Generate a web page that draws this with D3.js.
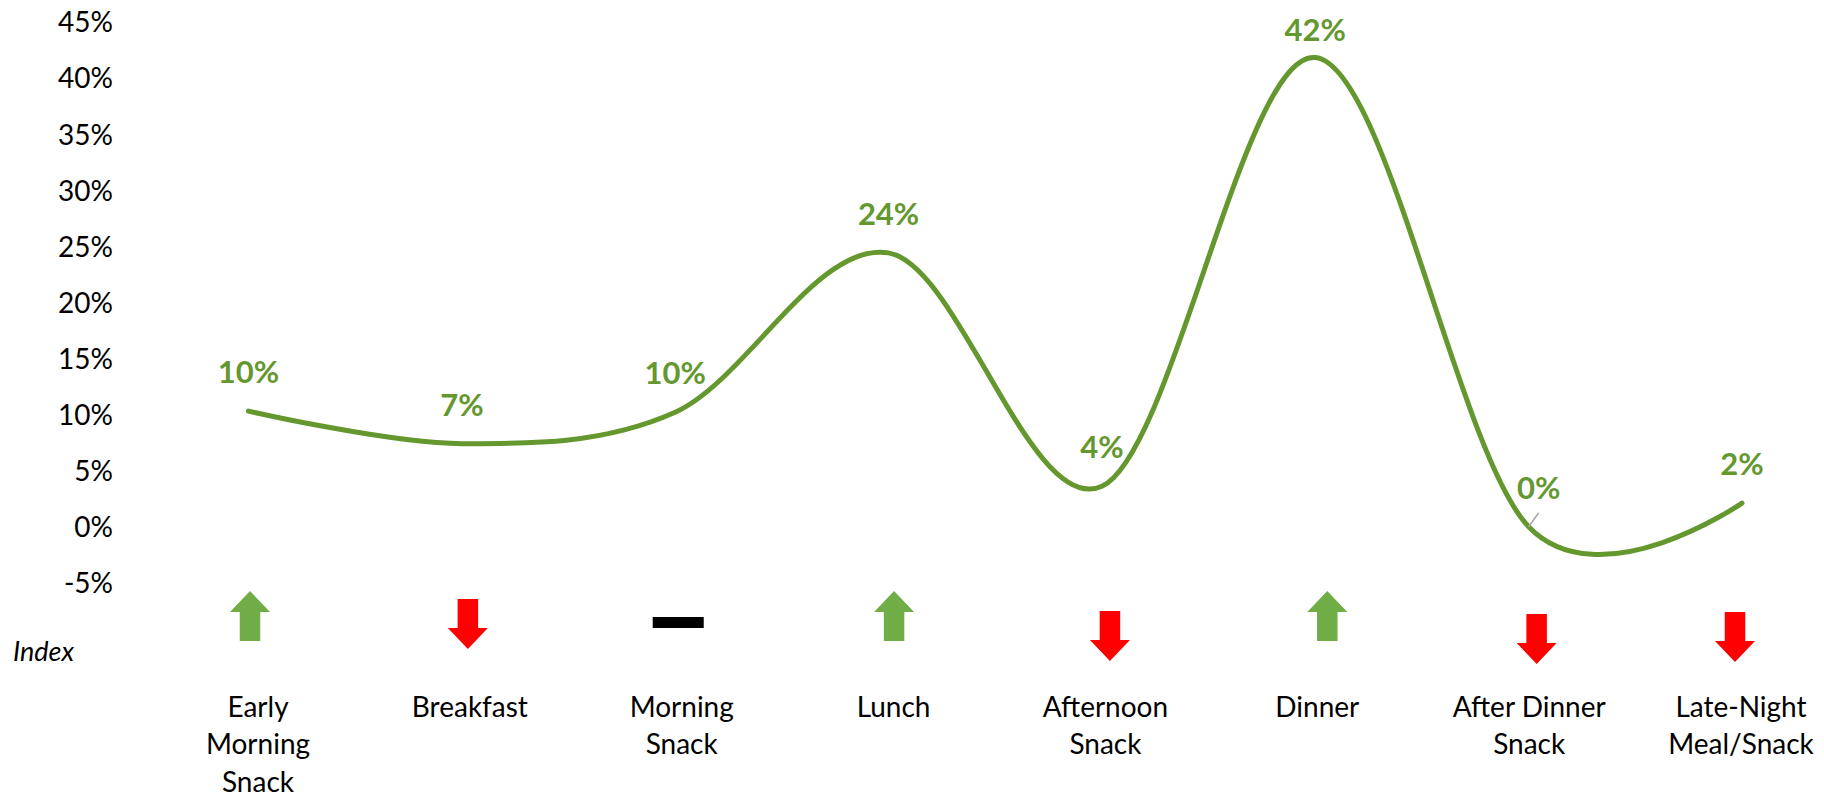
<!DOCTYPE html>
<html>
<head>
<meta charset="utf-8">
<script src="https://cdn.jsdelivr.net/npm/d3@7"></script>
<style>
  html, body { margin: 0; padding: 0; background: #ffffff; }
  svg { display: block; font-family: Lato, "Open Sans", sans-serif; }
</style>
</head>
<body>
<svg id="chart" width="1824" height="797"></svg>
<script>
// ---- data ----
const categories = [
  "Early\nMorning\nSnack",
  "Breakfast",
  "Morning\nSnack",
  "Lunch",
  "Afternoon\nSnack",
  "Dinner",
  "After Dinner\nSnack",
  "Late-Night\nMeal/Snack"
];
const shareValues = [10.3, 7.4, 10.2, 24.4, 3.6, 41.8, 0.0, 2.1];   // percent
const trends = ["up", "down", "flat", "up", "down", "up", "down", "down"];
const yTicks = [-5, 0, 5, 10, 15, 20, 25, 30, 35, 40, 45];
const yAxisTitle = "Index";

// ---- layout ----
const W = 1824, H = 797;
const lineColor = "#64982F";
const upColor = "#70AD47", downColor = "#FF0000", flatColor = "#000000";
const labelDx = [0, 0, 0, 0, 0, 0, 10, 0];          // nudged data labels
const iconDx = [1.5, 6, 3, 5.5, 8, 12, 8, -7];       // icon offsets from column centre
const iconTop = [591, 599, 617, 591, 611, 591, 614, 612];

const svg = d3.select("#chart");

const x = d3.scalePoint().domain(categories).range([248.5, 1742]);
const xTable = d3.scalePoint().domain(categories).range([258, 1741]);
const y = d3.scaleLinear().domain([-5, 45]).range([582.8, 21.7]);

// y axis: labels only, no line, no ticks
const yAxis = d3.axisLeft(y)
  .tickValues(yTicks)
  .tickFormat(d => d + "%")
  .tickSize(0)
  .tickPadding(0);
const gy = svg.append("g")
  .attr("transform", "translate(113,0)")
  .call(yAxis);
gy.select(".domain").remove();
gy.selectAll("text")
  .attr("font-family", "Lato, 'Open Sans', sans-serif")
  .attr("font-size", 28)
  .attr("fill", "#000")
  .attr("dy", "0.36em");

// axis title at the left of the icon row
svg.append("text")
  .attr("x", 13)
  .attr("y", 661)
  .attr("font-size", 27)
  .attr("font-style", "italic")
  .attr("fill", "#000")
  .text(yAxisTitle);

// smoothed line
const line = d3.line()
  .x((d, i) => x(categories[i]))
  .y(d => y(d))
  .curve(d3.curveCardinal.tension(0));

svg.append("path")
  .datum(shareValues)
  .attr("d", line)
  .attr("fill", "none")
  .attr("stroke", lineColor)
  .attr("stroke-width", 5)
  .attr("stroke-linecap", "round")
  .attr("stroke-linejoin", "round");

// data labels (kept inside the top of the plot)
const fmt = d3.format(".0f");
const labelBaseline = v => Math.max(y(v) - 28, 41);

svg.append("g").selectAll("line")
  .data(shareValues.map((v, i) => ({ v, i })).filter(d => labelDx[d.i] !== 0))
  .join("line")
  .attr("x1", d => x(categories[d.i]))
  .attr("y1", d => y(d.v))
  .attr("x2", d => x(categories[d.i]) + labelDx[d.i])
  .attr("y2", d => labelBaseline(d.v) + 14)
  .attr("stroke", "#A6A6A6")
  .attr("stroke-width", 1.5);

svg.append("g").selectAll("text")
  .data(shareValues)
  .join("text")
  .attr("x", (d, i) => x(categories[i]) + labelDx[i])
  .attr("y", d => labelBaseline(d))
  .attr("text-anchor", "middle")
  .attr("font-size", 31)
  .attr("font-weight", 700)
  .attr("fill", lineColor)
  .text(d => fmt(d) + "%");

// trend icons
function arrowPath(cx, top, dir) {
  const w = 40, h = 50, head = 21, shaft = 20.5;
  const p = d3.path();
  if (dir === "up") {
    p.moveTo(cx, top);
    p.lineTo(cx + w / 2, top + head);
    p.lineTo(cx + shaft / 2, top + head);
    p.lineTo(cx + shaft / 2, top + h);
    p.lineTo(cx - shaft / 2, top + h);
    p.lineTo(cx - shaft / 2, top + head);
    p.lineTo(cx - w / 2, top + head);
  } else {
    p.moveTo(cx - shaft / 2, top);
    p.lineTo(cx + shaft / 2, top);
    p.lineTo(cx + shaft / 2, top + h - head);
    p.lineTo(cx + w / 2, top + h - head);
    p.lineTo(cx, top + h);
    p.lineTo(cx - w / 2, top + h - head);
    p.lineTo(cx - shaft / 2, top + h - head);
  }
  p.closePath();
  return p.toString();
}

const icons = svg.append("g");
trends.forEach((t, i) => {
  const cx = x(categories[i]) + iconDx[i];
  if (t === "flat") {
    icons.append("rect")
      .attr("x", cx - 25.5)
      .attr("y", iconTop[i])
      .attr("width", 51)
      .attr("height", 11)
      .attr("fill", flatColor);
  } else {
    icons.append("path")
      .attr("d", arrowPath(cx, iconTop[i], t))
      .attr("fill", t === "up" ? upColor : downColor);
  }
});

// category labels
const catG = svg.append("g");
categories.forEach(c => {
  const t = catG.append("text")
    .attr("text-anchor", "middle")
    .attr("font-size", 28)
    .attr("fill", "#000");
  c.split("\n").forEach((ln, k) => {
    t.append("tspan")
      .attr("x", xTable(c))
      .attr("y", 716.5 + k * 37.5)
      .text(ln);
  });
});
</script>
</body>
</html>
